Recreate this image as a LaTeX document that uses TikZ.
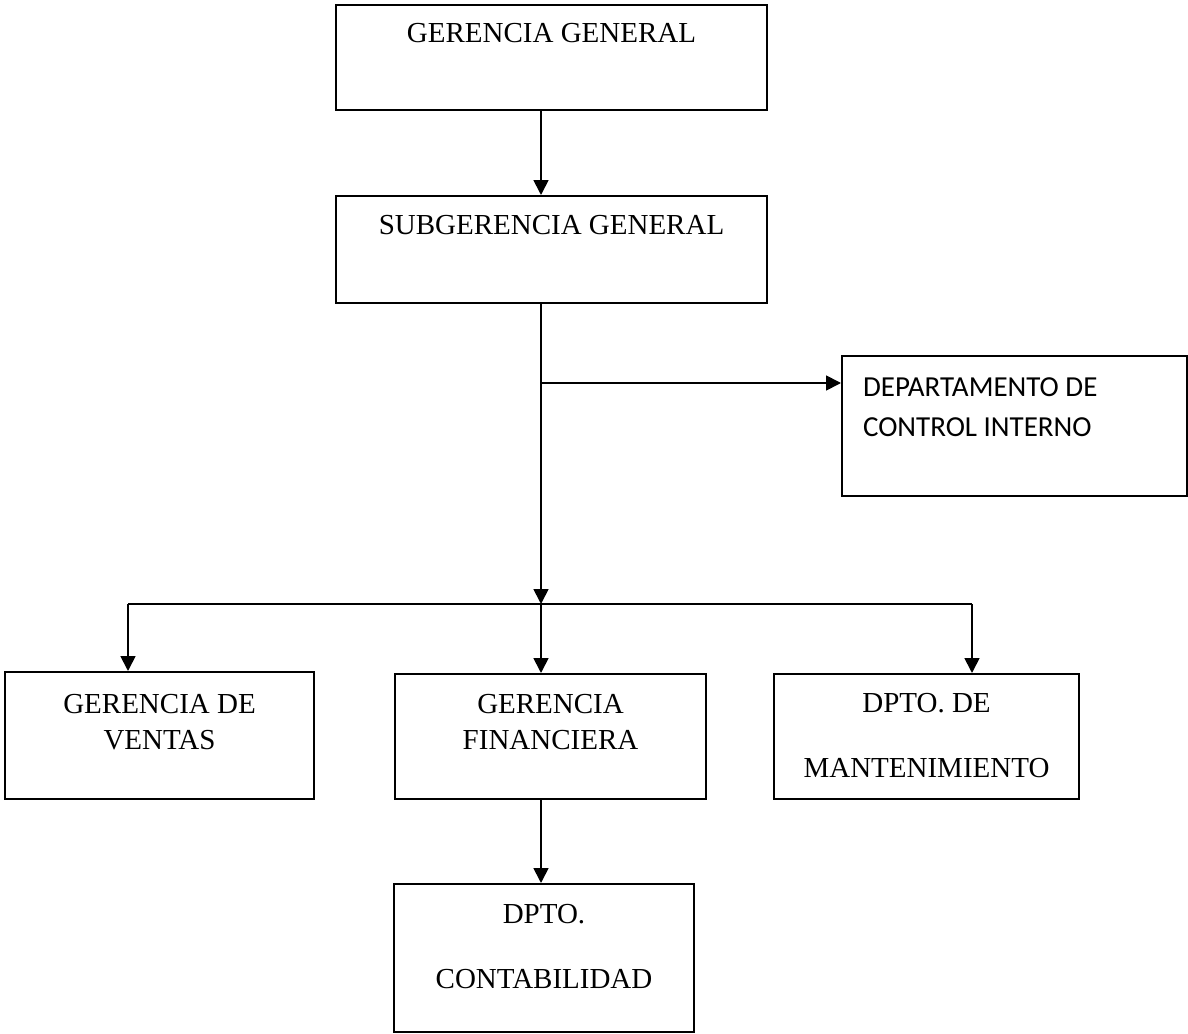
\documentclass[tikz,border=0pt]{standalone}
\usepackage{fontspec}
\setmainfont{Liberation Serif}
\newfontfamily\calibri{Carlito}
\usetikzlibrary{positioning,arrows.meta}

\tikzset{
  orgbox/.style={draw,line width=1.2pt,inner sep=0pt,anchor=north west,
    font=\fontsize{16.5}{21}\selectfont},
  arr/.style={-{Triangle[length=0.3cm,width=0.3cm]},line width=1pt}
}

\begin{document}
\begin{tikzpicture}[x=0.02cm,y=-0.02cm]
  \useasboundingbox (0,0) rectangle (1188,1034);
  % boxes
  \node[orgbox,minimum width=8.62cm,text height=0.74cm,text depth=1.36cm] (gg) at (335,4) {GERENCIA GENERAL};
  \node[orgbox,minimum width=8.62cm,text height=0.76cm,text depth=1.38cm] (sg) at (335,195) {SUBGERENCIA GENERAL};
  \node[orgbox,text height=0.8cm,text depth=2.0cm,font=\calibri\fontsize{16.5}{22.8}\selectfont] (dci) at (841,355)
    {\makebox[6.9cm][l]{\hspace{0.42cm}\begin{tabular}[t]{@{}l@{}}DEPARTAMENTO DE\\CONTROL INTERNO\end{tabular}}};
  \node[orgbox,minimum width=6.18cm,text height=0.82cm,text depth=1.72cm] (gv) at (4,671)
    {\begin{tabular}[t]{@{}c@{}}GERENCIA DE\\VENTAS\end{tabular}};
  \node[orgbox,minimum width=6.22cm,text height=0.78cm,text depth=1.72cm] (gf) at (394,673)
    {\begin{tabular}[t]{@{}c@{}}GERENCIA\\FINANCIERA\end{tabular}};
  \node[orgbox,minimum width=6.1cm,text height=0.76cm,text depth=1.74cm,font=\fontsize{16.5}{37}\selectfont] (dm) at (773,673)
    {\begin{tabular}[t]{@{}c@{}}DPTO. DE\\MANTENIMIENTO\end{tabular}};
  \node[orgbox,minimum width=6.0cm,text height=0.78cm,text depth=2.18cm,font=\fontsize{16.5}{37}\selectfont] (dc) at (393,883)
    {\begin{tabular}[t]{@{}c@{}}DPTO.\\CONTABILIDAD\end{tabular}};
  % connectors
  \coordinate (spine) at (541,0);
  \coordinate (branch) at (541,383);
  \coordinate (bus) at (541,604);
  \coordinate (busL) at (128,604);
  \coordinate (busR) at (972,604);
  \draw[arr] (gg.south -| spine) -- (sg.north -| spine);
  \draw[arr] (sg.south -| spine) -- (bus);
  \draw[arr] (branch) -- (branch -| dci.west);
  \draw[line width=1pt] (busL) -- (busR);
  \draw[arr] (busL) -- (busL |- gv.north);
  \draw[arr] (bus) -- (bus |- gf.north);
  \draw[arr] (busR) -- (busR |- dm.north);
  \draw[arr] (gf.south -| spine) -- (dc.north -| spine);
\end{tikzpicture}
\end{document}
